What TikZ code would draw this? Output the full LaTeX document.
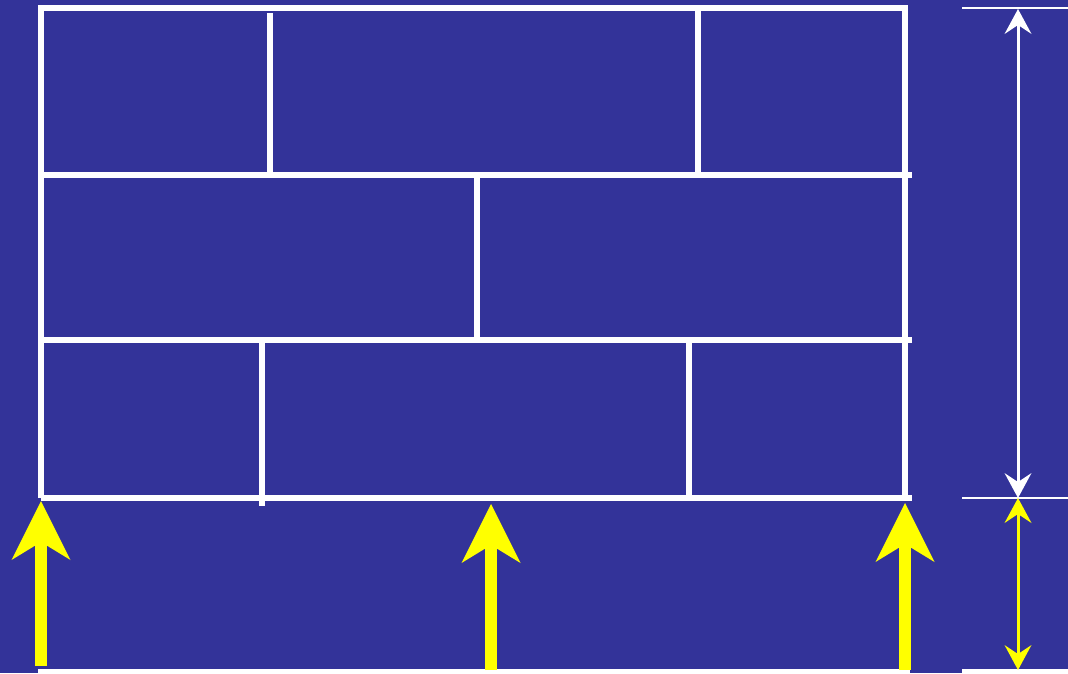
\documentclass[tikz,border=0pt]{standalone}
\usetikzlibrary{arrows.meta}
\definecolor{bg}{RGB}{51,51,153}
\definecolor{yel}{RGB}{255,255,0}
\begin{document}
\begin{tikzpicture}[x=1pt,y=-1pt,
  wall/.style={white,line width=5.5pt},
  thinw/.style={white,line width=2.5pt},
  load/.style={yel,line width=12pt,-{Stealth[length=59pt,width=59pt,inset=18pt,line width=0pt]}},
  dimw/.style={white,line width=3pt,{Stealth[length=25pt,width=27pt,inset=9pt,line width=0pt]}-{Stealth[length=25pt,width=27pt,inset=9pt,line width=0pt]}},
  dimy/.style={yel,line width=3pt,{Stealth[length=25pt,width=27pt,inset=9pt,line width=0pt]}-{Stealth[length=25pt,width=27pt,inset=9pt,line width=0pt]}}]
\fill[bg] (0,0) rectangle (1068,673);
\useasboundingbox (0,0) rectangle (1068,673);
% corners
\coordinate (TL) at (41,8);
\coordinate (TR) at (905,8);
\coordinate (BL) at (41,498);
\coordinate (BR) at (905,498);
% wall outline
\draw[wall] (BL) -- (TL) -- (TR) -- (BR);
% bed joints
\coordinate (h1a) at (41,175); \coordinate (h1b) at (912,175);
\coordinate (h2a) at (41,340); \coordinate (h2b) at (912,340);
\coordinate (h3a) at (41,498); \coordinate (h3b) at (912,498);
\draw[wall] (h1a) -- (h1b);
\draw[wall] (h2a) -- (h2b);
\draw[wall] (h3a) -- (h3b);
% head joints
\coordinate (v1a) at (270,13);  \coordinate (v1b) at (270,178);
\coordinate (v2a) at (698,8);   \coordinate (v2b) at (698,175);
\coordinate (v3a) at (477,175); \coordinate (v3b) at (477,340);
\coordinate (v4a) at (262,340); \coordinate (v4b) at (262,506);
\coordinate (v5a) at (689,337); \coordinate (v5b) at (689,498);
\draw[wall] (v1a) -- (v1b);
\draw[wall] (v2a) -- (v2b);
\draw[wall] (v3a) -- (v3b);
\draw[wall] (v4a) -- (v4b);
\draw[wall] (v5a) -- (v5b);
% base line
\coordinate (g1) at (38,671); \coordinate (g2) at (910,671);
\draw[thinw,line width=4pt] (g1) -- (g2);
% loads
\coordinate (a1s) at (41,666);  \coordinate (a1t) at (41,501);
\coordinate (a2s) at (491,670); \coordinate (a2t) at (491,504);
\coordinate (a3s) at (905,670); \coordinate (a3t) at (905,503);
\draw[load] (a1s) -- (a1t);
\draw[load] (a2s) -- (a2t);
\draw[load] (a3s) -- (a3t);
% dimension extension lines
\coordinate (e1a) at (962,8);   \coordinate (e1b) at (1068,8);
\coordinate (e2a) at (962,498); \coordinate (e2b) at (1068,498);
\coordinate (e3a) at (962,671); \coordinate (e3b) at (1068,671);
\draw[thinw] (e1a) -- (e1b);
\draw[thinw] (e2a) -- (e2b);
\draw[thinw,line width=4pt] (e3a) -- (e3b);
% dimension arrows
\coordinate (d1) at (1018,9);
\coordinate (d2) at (1018,498);
\coordinate (d3) at (1018,670);
\draw[dimw] (d1) -- (d2);
\draw[dimy] (d2) -- (d3);
\end{tikzpicture}
\end{document}
